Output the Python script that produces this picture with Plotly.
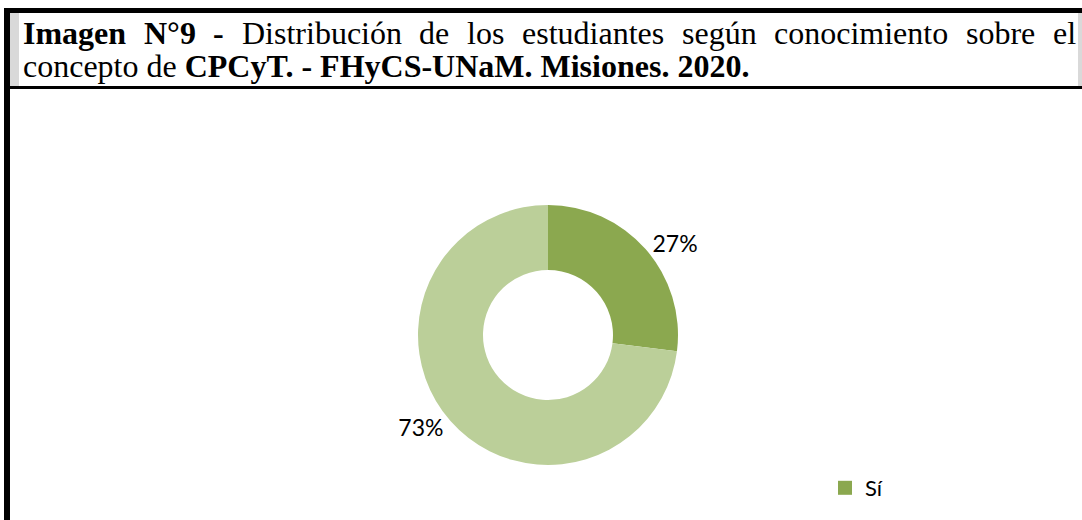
import plotly.graph_objects as go

# ---- data ----
categories = ["Sí", "No"]
values = [27, 73]
colors = ["#8BA84F", "#BBCF99"]

title_line1 = [("Imagen", True), ("N°9", True), ("-", True), ("Distribución", False),
               ("de", False), ("los", False), ("estudiantes", False), ("según", False),
               ("conocimiento", False), ("sobre", False), ("el", False)]
title_line2 = "concepto de <b>CPCyT. - FHyCS-UNaM. Misiones. 2020.</b>"

W, H = 1082, 520
FS = 32
SERIF = "Liberation Serif"

# Times metrics (per 1000 em) used to justify the first title line
REG = {' ': 250, 'a': 444, 'b': 500, 'c': 444, 'd': 500, 'e': 444, 'g': 500, 'i': 278,
       'l': 278, 'm': 778, 'n': 500, 'o': 500, 'p': 500, 'r': 333, 's': 389, 't': 278,
       'u': 500, 'ó': 500, 'ú': 500, 'D': 722}
BOLD = {'I': 389, 'm': 833, 'a': 500, 'g': 500, 'e': 444, 'n': 556, 'N': 722, '°': 400,
        '9': 500, '-': 333}


def word_width(w, bold):
    t = BOLD if bold else REG
    return sum(t.get(ch, 500) for ch in w) * FS / 1000.0


left_px, right_px = 22, 1075
widths = [word_width(w, b) for w, b in title_line1]
gap = (right_px - left_px - sum(widths)) / (len(title_line1) - 1)

annotations = []
xpos = left_px
for (w, b), wd in zip(title_line1, widths):
    annotations.append(dict(
        x=xpos / W, y=1 - 33 / H, xref="paper", yref="paper",
        xanchor="left", yanchor="middle", showarrow=False,
        text=f"<b>{w}</b>" if b else w, borderpad=0,
        font=dict(family=SERIF, size=FS, color="black")))
    xpos += wd + gap

annotations.append(dict(
    x=left_px / W, y=1 - 66 / H, xref="paper", yref="paper",
    xanchor="left", yanchor="middle", showarrow=False, text=title_line2, borderpad=0,
    font=dict(family=SERIF, size=FS, color="black")))

shapes = [
    # light grey side strips of the caption box
    dict(type="rect", xref="paper", yref="paper", x0=10 / W, x1=19 / W,
         y0=1 - 87 / H, y1=1 - 13 / H, fillcolor="#D9D9D9", line_width=0, layer="below"),
    dict(type="rect", xref="paper", yref="paper", x0=1078 / W, x1=1,
         y0=1 - 87 / H, y1=1 - 13 / H, fillcolor="#D9D9D9", line_width=0, layer="below"),
    # top black rule
    dict(type="rect", xref="paper", yref="paper", x0=4 / W, x1=1,
         y0=1 - 13 / H, y1=1 - 8 / H, fillcolor="black", line_width=0),
    # rule under caption
    dict(type="rect", xref="paper", yref="paper", x0=4 / W, x1=1,
         y0=1 - 89 / H, y1=1 - 86 / H, fillcolor="black", line_width=0),
    # left thick border
    dict(type="rect", xref="paper", yref="paper", x0=4 / W, x1=10 / W,
         y0=0, y1=1 - 8 / H, fillcolor="black", line_width=0),
]

cx, cy, r = 548, 335, 130

fig = go.Figure()
fig.add_trace(go.Pie(
    labels=categories, values=values, hole=0.5, sort=False, direction="clockwise",
    rotation=0, marker=dict(colors=colors, line=dict(width=0)),
    texttemplate="%{percent:.0%}", textposition="outside",
    textfont=dict(family="Lato", size=23, color="black"),
    showlegend=False, hoverinfo="label+percent",
    domain=dict(x=[(cx - r) / W, (cx + r) / W], y=[(H - cy - r) / H, (H - cy + r) / H]),
))
# legend entry (only the first category is visible in the reference)
fig.add_trace(go.Scatter(
    x=[None], y=[None], mode="markers", name=categories[0],
    marker=dict(symbol="square", size=14, color=colors[0]), showlegend=True))

fig.update_layout(
    width=W, height=H, margin=dict(l=0, r=0, t=0, b=0),
    paper_bgcolor="white", plot_bgcolor="white",
    xaxis=dict(visible=False), yaxis=dict(visible=False),
    annotations=annotations, shapes=shapes,
    legend=dict(x=825 / W, y=1 - 488 / H, xanchor="left", yanchor="middle",
                font=dict(family="Lato", size=22, color="black"),
                bgcolor="rgba(0,0,0,0)"),
)

fig.write_html("out.html", config={"displayModeBar": False},
               post_script="document.body.style.margin='0';document.body.style.overflow='hidden';")
